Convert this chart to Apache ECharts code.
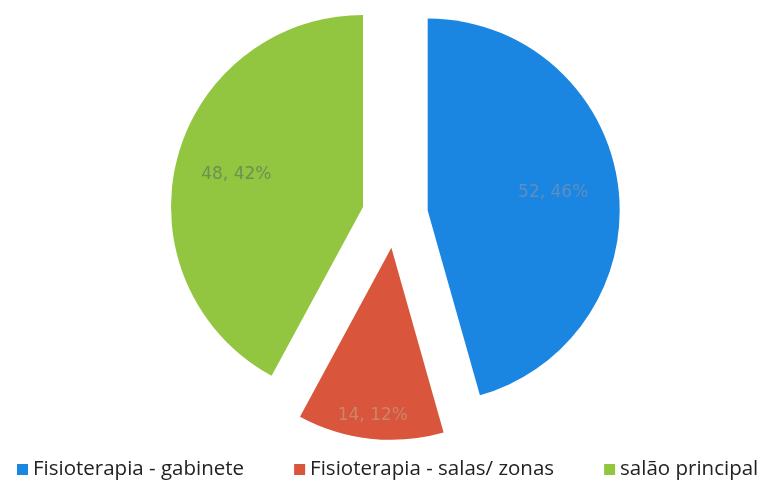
<!DOCTYPE html>
<html>
<head>
<meta charset="utf-8">
<script src="https://cdn.jsdelivr.net/npm/echarts@6/dist/echarts.min.js"></script>
<style>
html, body { margin: 0; padding: 0; background: #fff; }
#main { width: 764px; height: 483px; }
</style>
</head>
<body>
<div id="main"></div>
<script>
var categories = ['Fisioterapia - gabinete', 'Fisioterapia - salas/ zonas', 'salão principal'];
var values = [52, 14, 48];
var colors = ['#1a86e2', '#d9553b', '#92c640'];
var labelColors = ['#5d8fc0', '#c9876a', '#6f8f55'];
// how far to push each label outward, relative to the default inside spot
var labelPush = [0.28, 0.7, 0.32];

var cx = 395, cy = 215;

var myChart = echarts.init(document.getElementById('main'));

var data = [];
for (var i = 0; i < values.length; i++) {
    data.push({
        value: values[i],
        name: categories[i],
        selected: true,
        itemStyle: { color: colors[i] },
        label: { color: labelColors[i] }
    });
}

var option = {
    animation: false,
    legend: {
        bottom: -2,
        left: 12,
        itemWidth: 11,
        itemHeight: 11,
        itemGap: 50,
        icon: 'rect',
        selectedMode: false,
        textStyle: {
            fontFamily: 'Open Sans',
            fontSize: 20.5,
            color: '#222'
        },
        data: categories
    },
    series: [
        {
            type: 'pie',
            center: [cx, cy],
            radius: 192,
            startAngle: 90,
            clockwise: true,
            selectedMode: 'multiple',
            selectedOffset: 33,
            emphasis: { disabled: true },
            label: {
                show: true,
                position: 'inside',
                formatter: function (p) {
                    return p.value + ', ' + Math.round(p.percent) + '%';
                },
                fontFamily: 'DejaVu Sans',
                fontSize: 17
            },
            labelLine: { show: false },
            labelLayout: function (params) {
                var r = params.labelRect;
                var lx = r.x + r.width / 2, ly = r.y + r.height / 2;
                var k = labelPush[params.dataIndex];
                return { dx: (lx - cx) * k, dy: (ly - cy) * k };
            },
            data: data
        }
    ]
};

myChart.setOption(option);
</script>
</body>
</html>
